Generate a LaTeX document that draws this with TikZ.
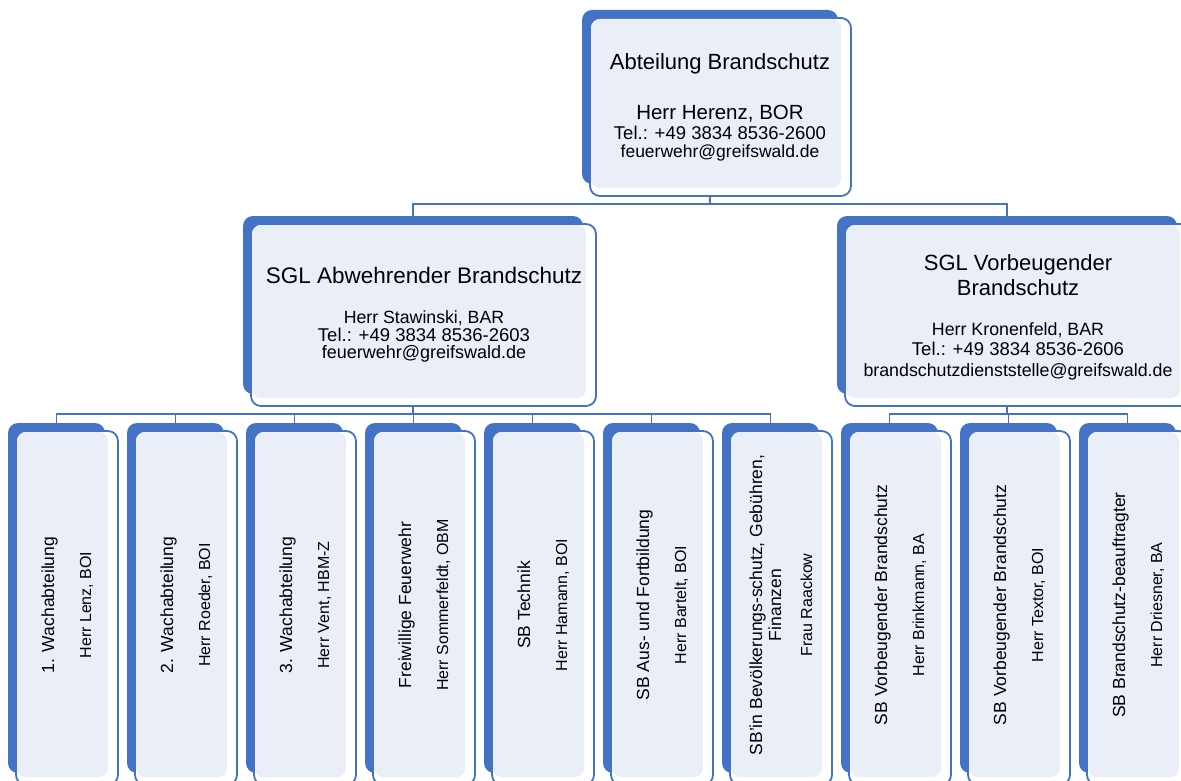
\documentclass[tikz,border=0pt]{standalone}
\usepackage{fontspec}
\setmainfont{Liberation Sans}
\usetikzlibrary{calc}
\definecolor{obblue}{HTML}{4472C4}
\definecolor{oblight}{HTML}{E9EEF7}
\pgfdeclarelayer{bg}
\pgfsetlayers{bg,main}
\newcommand\fsz[1]{\fontsize{#1}{#1}\selectfont}
\tikzset{
  tab/.style={anchor=north west, fill=obblue, draw=none, rounded corners=10pt, inner sep=0pt, outer sep=0pt},
  frame/.style={draw=obblue, line width=1.8pt, fill=white, rounded corners=10pt},
  lightfill/.style={fill=oblight, rounded corners=9pt},
  conn/.style={draw=obblue, line width=1.8pt},
  lab/.style={anchor=base, inner sep=0pt, text=black},
  vlab/.style={anchor=base, inner sep=0pt, rotate=90, text=black},
}
% name, x, y, w, h
\newcommand\orgbox[5]{%
  \node[tab, minimum width=#4pt, minimum height=#5pt] (#1) at (#2,#3) {};
  \path[frame] ($(#1.north west)+(8,8)$) rectangle ($(#1.south east)+(13,12)$);
  \path[lightfill] ($(#1.north west)+(9,9)$) rectangle ($(#1.south east)+(3,4)$);
}
% name, x, heading, person
\newcommand\lowbox[4]{%
  \orgbox{#1}{#2}{423}{97}{350}
  \node[vlab, font=\fsz{17.5}] (#1h) at (#2+46,605) {#3};
  \node[vlab, font=\fsz{16}] (#1p) at (#2+83,605) {#4};
}
\begin{document}
\begin{tikzpicture}[x=1pt,y=-1pt]
\useasboundingbox (0,0) rectangle (1181,781);
\clip (0,0) rectangle (1181,781);

% top
\orgbox{root}{582}{10}{256}{174}
\node[lab, font=\fsz{22}] (rootA) at (720,70) {Abteilung Brandschutz};
\node[lab, font=\fsz{20.5}] (rootB) at (720,120) {Herr Herenz, BOR};
\node[lab, font=\fsz{18.5}] (rootC) at (720,140) {Tel.: +49 3834 8536-2600};
\node[lab, font=\fsz{17.5}] (rootD) at (720,158) {feuerwehr@greifswald.de};

% middle left
\orgbox{sgla}{243}{216}{340}{178}
\node[lab, font=\fsz{22.5}] (sglaA) at (424,283) {SGL Abwehrender Brandschutz};
\node[lab, font=\fsz{17.7}] (sglaB) at (424,323) {Herr Stawinski, BAR};
\node[lab, font=\fsz{18.5}] (sglaC) at (424,341) {Tel.: +49 3834 8536-2603};
\node[lab, font=\fsz{18}] (sglaD) at (424,358) {feuerwehr@greifswald.de};

% middle right
\orgbox{sglv}{837}{216}{340}{178}
\node[lab, font=\fsz{22}] (sglvA) at (1018,270) {SGL Vorbeugender};
\node[lab, font=\fsz{22}] (sglvB) at (1018,295) {Brandschutz};
\node[lab, font=\fsz{17.8}] (sglvC) at (1018,335) {Herr Kronenfeld, BAR};
\node[lab, font=\fsz{18.5}] (sglvD) at (1018,355) {Tel.: +49 3834 8536-2606};
\node[lab, font=\fsz{17.8}] (sglvE) at (1018,376) {brandschutzdienststelle@greifswald.de};

% bottom row
\lowbox{b1}{8}{1. Wachabteilung}{Herr Lenz, BOI}
\lowbox{b2}{127}{2. Wachabteilung}{Herr Roeder, BOI}
\lowbox{b3}{246}{3. Wachabteilung}{Herr Vent, HBM-Z}
\lowbox{b4}{365}{Freiwillige Feuerwehr}{Herr Sommerfeldt, OBM}
\lowbox{b5}{484}{SB Technik}{Herr Hamann, BOI}
\lowbox{b6}{603}{SB Aus- und Fortbildung}{Herr Bartelt, BOI}
\orgbox{b7}{722}{423}{97}{350}
\node[vlab, font=\fsz{17.5}] (b7h) at (722+40,605) {SB'in Bevölkerungs-schutz, Gebühren,};
\node[vlab, font=\fsz{17.5}] (b7i) at (722+59,605) {Finanzen};
\node[vlab, font=\fsz{16}] (b7p) at (722+90,605) {Frau Raackow};
\lowbox{b8}{841}{SB Vorbeugender Brandschutz}{Herr Brinkmann, BA}
\lowbox{b9}{960}{SB Vorbeugender Brandschutz}{Herr Textor, BOI}
\lowbox{b10}{1079}{SB Brandschutz-beauftragter}{Herr Driesner, BA}

% connectors
\coordinate (busA) at (0,204);
\coordinate (busB) at (0,414);
\begin{pgfonlayer}{bg}
\draw[conn] (root.center) -- (root.center |- busA) -| (sgla.north);
\draw[conn] (root.center |- busA) -| (sglv.north);
\draw[conn] (sgla.center) -- (sgla.center |- busB);
\foreach \b in {b1,b2,b3,b4,b5,b6,b7} \draw[conn] (sgla.center |- busB) -| (\b.north);
\draw[conn] (sglv.center) -- (sglv.center |- busB);
\foreach \b in {b8,b9,b10} \draw[conn] (sglv.center |- busB) -| (\b.north);
\end{pgfonlayer}
\end{tikzpicture}
\end{document}
